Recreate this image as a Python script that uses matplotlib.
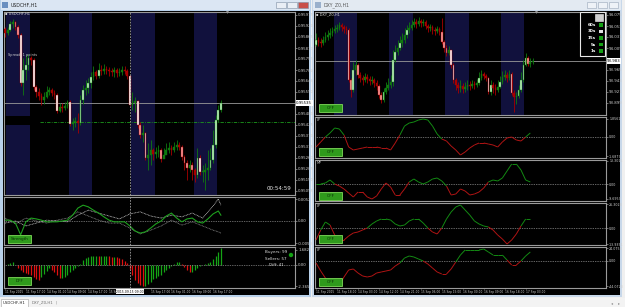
import numpy as np
import matplotlib
matplotlib.use("Agg")
import matplotlib.pyplot as plt
from matplotlib.patches import Rectangle, Circle
from matplotlib.collections import LineCollection
from matplotlib.transforms import blended_transform_factory

W, H = 625, 307

# ==========================================
# 1. Data
# ==========================================
# USDCHF H1, prices in 1e-5
chf_open0 = 95905
chf_close = [95885, 95900, 95930, 95940, 95915, 95875, 95635, 95700, 95725, 95760,
             95750, 95615, 95590, 95570, 95550, 95565, 95590, 95600, 95585, 95575,
             95495, 95515, 95510, 95520, 95540, 95430, 95440, 95445, 95435, 95550,
             95600, 95610, 95635, 95665, 95690, 95670, 95700, 95695, 95705, 95700,
             95695, 95690, 95700, 95685, 95690, 95700, 95695, 95670, 95525, 95535,
             95545, 95425, 95375, 95385, 95260, 95275, 95300, 95280, 95290, 95300,
             95255, 95275, 95300, 95310, 95300, 95315, 95325, 95315, 95265, 95235,
             95210, 95225, 95200, 95175, 95260, 95190, 95190, 95200, 95210, 95250,
             95325, 95450, 95500, 95535]
chf_high = [95915, 95915, 95945, 95955, 95945, 95925, 95885, 95760, 95775, 95780,
            95770, 95760, 95625, 95610, 95585, 95590, 95620, 95615, 95610, 95600,
            95585, 95535, 95535, 95540, 95550, 95550, 95460, 95465, 95485, 95575,
            95625, 95650, 95660, 95690, 95720, 95700, 95735, 95725, 95730, 95720,
            95715, 95710, 95715, 95710, 95710, 95720, 95720, 95705, 95675, 95590,
            95565, 95550, 95440, 95425, 95390, 95335, 95350, 95310, 95315, 95325,
            95310, 95310, 95335, 95340, 95325, 95340, 95350, 95340, 95325, 95275,
            95250, 95250, 95240, 95210, 95310, 95275, 95225, 95235, 95300, 95310,
            95400, 95475, 95525, 95550]
chf_low = [95865, 95875, 95895, 95910, 95900, 95860, 95620, 95575, 95650, 95700,
           95725, 95600, 95565, 95550, 95525, 95530, 95560, 95575, 95570, 95555,
           95485, 95490, 95490, 95500, 95510, 95420, 95400, 95415, 95385, 95425,
           95530, 95575, 95585, 95610, 95650, 95655, 95660, 95675, 95680, 95680,
           95670, 95670, 95665, 95665, 95670, 95675, 95680, 95655, 95520, 95500,
           95490, 95410, 95360, 95340, 95250, 95200, 95225, 95250, 95260, 95265,
           95240, 95260, 95280, 95285, 95275, 95290, 95300, 95300, 95250, 95200,
           95150, 95190, 95150, 95140, 95160, 95175, 95140, 95100, 95150, 95200,
           95235, 95310, 95440, 95490]
chf_price_ticks = [95975, 95920, 95865, 95810, 95755, 95700, 95645, 95590,
                   95480, 95425, 95370, 95315, 95260, 95205, 95150, 95095]
chf_level = 95440
chf_sessions = [1, 25, 49, 73]
chf_cross_bar = 48
chf_time_bars = [0, 8, 16, 24, 32, 40, 56, 64, 72, 80]
chf_time_labels = ["11 Sep 2015", "11 Sep 17:00", "14 Sep 01:00", "14 Sep 09:00",
                   "14 Sep 17:00", "15 Sep 01:00", "15 Sep 17:00", "16 Sep 01:00",
                   "16 Sep 09:00", "16 Sep 17:00"]

# Strength indicator (1e-4 units)
str_bars = np.append(np.arange(0, 83, 2), 83)
str_green = [2, 2, -5, -33, -2, 7, 5, 2, -2, -2,
             -2, 0, 2, 14, 31, 38, 34, 26, 19, 10,
             2, -2, -2, -2, -12, -24, -29, -26, -17, -7,
             0, 12, 19, 7, -2, 5, 7, -2, -5, 5,
             17, 24, 14]
str_gray_bars = np.append(np.arange(0, 81, 4), [82, 83])
str_gray_a = [-5, 0, -12, -5, 2, 0, -2, 14, 26, 19, 12, 5, 17, 22, 12, 7, 14, 10, 19, 7, 36, 53, 38]
str_gray_b = [7, -7, 7, 0, -5, 2, 7, 22, 12, 2, -5, -5, -17, -31, -22, -12, 2, -10, -2, -12, -22, -26, -29]

# DFF histogram
dff = [0.0, 0.11, 0.22, 0.33, 0.0, -0.33, -0.56, -0.78, -0.89, -1.0,
       -1.11, -1.33, -1.56, -1.67, -1.33, -1.0, -0.67, -0.33, -0.56, -0.78,
       -1.11, -1.44, -1.44, -1.33, -1.11, -0.78, -0.56, -0.33, -0.11, 0.11,
       0.56, 0.78, 0.89, 1.0, 1.0, 1.0, 0.95, 1.0, 1.0, 1.0,
       0.95, 0.89, 0.89, 0.85, 0.8, 0.67, 0.44, 0.22, -0.44, -1.11,
       -1.67, -2.0, -2.22, -2.33, -2.33, -2.11, -1.89, -1.56, -1.44, -1.22,
       -1.11, -0.78, -0.56, -0.33, -0.11, 0.11, 0.33, 0.33, 0.11, -0.22,
       -0.56, -0.78, -0.78, -0.56, -0.33, -0.11, 0.0, 0.11, 0.22, 0.33,
       0.67, 1.0, 1.44, 1.89]

# DXY H1, prices in 1e-3
dxy_open0 = 94015
dxy_close = [94025, 94021, 94019, 94025, 94031, 94035, 94039, 94043, 94047, 94049,
             94055, 94051, 94047, 94045, 93945, 93925, 93965, 93975, 93955, 93949,
             93945, 93951, 93947, 93943, 93945, 93939, 93933, 93915, 93905, 93921,
             93929, 93935, 93941, 93985, 94001, 94009, 94019, 94025, 94035, 94045,
             94049, 94055, 94061, 94057, 94063, 94059, 94061, 94053, 94049, 94051,
             94045, 94043, 94047, 94041, 94021, 94009, 93999, 94005, 93975, 93945,
             93935, 93929, 93933, 93927, 93931, 93935, 93933, 93937, 93935, 93939,
             93949, 93957, 93953, 93949, 93921, 93935, 93929, 93925, 93931, 93941,
             93951, 93955, 93949, 93957, 93919, 93911, 93913, 93925, 93945, 93975,
             93989, 93977, 93981, 93983]
dxy_high = [94039, 94031, 94029, 94033, 94041, 94045, 94049, 94051, 94055, 94057,
            94061, 94059, 94055, 94053, 94049, 93949, 93981, 93985, 93979, 93961,
            93955, 93959, 93957, 93953, 93953, 93949, 93945, 93937, 93921, 93929,
            93941, 93949, 93955, 94005, 94015, 94025, 94033, 94039, 94049, 94055,
            94061, 94065, 94069, 94067, 94071, 94067, 94067, 94065, 94057, 94057,
            94055, 94051, 94053, 94051, 94069, 94025, 94015, 94013, 94005, 93979,
            93949, 93941, 93945, 93939, 93941, 93945, 93943, 93945, 93943, 93947,
            93961, 93965, 93961, 93957, 93951, 93945, 93941, 93937, 93945, 93953,
            93963, 93965, 93961, 93965, 93961, 93925, 93921, 93935, 93961, 93985,
            93999, 93993, 93989, 93989]
dxy_low = [94013, 94013, 94011, 94015, 94021, 94025, 94029, 94033, 94039, 94041,
           94045, 94043, 94039, 94037, 93941, 93911, 93921, 93955, 93949, 93941,
           93935, 93941, 93939, 93935, 93937, 93931, 93925, 93909, 93899, 93901,
           93917, 93925, 93929, 93933, 93981, 93995, 94005, 94011, 94019, 94029,
           94039, 94045, 94051, 94049, 94053, 94051, 94053, 94047, 94041, 94043,
           94037, 94035, 94039, 94035, 94017, 94001, 93993, 93995, 93969, 93939,
           93925, 93919, 93921, 93919, 93921, 93925, 93925, 93929, 93927, 93931,
           93935, 93945, 93947, 93943, 93917, 93915, 93919, 93915, 93921, 93929,
           93937, 93945, 93941, 93945, 93915, 93881, 93897, 93909, 93921, 93941,
           93973, 93973, 93971, 93977]
dxy_price_ticks = [94075, 94053, 94031, 94009, 93965, 93943, 93921, 93899]
dxy_sessions = [8, 32, 56, 80]
dxy_time_bars = [0, 9, 18, 27, 36, 45, 54, 63, 72, 81, 90]
dxy_time_labels = ["11 Sep 2015", "11 Sep 18:00", "14 Sep 03:00", "14 Sep 12:00",
                   "14 Sep 21:00", "15 Sep 06:00", "15 Sep 15:00", "16 Sep 00:00",
                   "16 Sep 09:00", "16 Sep 18:00", "17 Sep 03:00"]

# DXY sub-indicators
ind_bars = np.arange(0, 93, 2)
ind1 = [-10, -5, 0, 4, 9, 8, 2, -10, -13, -12, -11, -10, -10, -10, -11, -11, -13, -6, 2, 11,
        14, 15, 17, 18, 17, 11, 3, -2, -4, -9, -13, -18, -15, -11, -8, -6, -6, -7, -8, -10,
        -5, -1, 0, -3, -4, 0, 4]
ind2 = [0, 0, 1, 4, 0, -2, -5, -9, -13, -8, -8, -13, -15, -12, -5, 1, -3, -11, -11, -5,
        2, 5, 2, 0, 2, 5, 6, 3, -2, -11, -10, -5, -7, -11, -10, -8, -4, 2, 4, 3,
        6, 13, 20, 20, 14, 4, 2]
ind3 = [-12, -2, 6, 3, -7, -12, -12, -8, -5, -4, -2, 0, 4, 7, 9, 9, 8, 4, 2, 3,
        7, 9, 9, 5, 0, -4, -6, 0, 9, 16, 21, 23, 18, 13, 7, 4, 2, 1, -2, -7,
        -11, -16, -12, -6, 2, 9, 9]
ind4 = [-2, -10, -17, -22, -23, -24, -16, -9, -8, -12, -15, -16, -15, -12, -11, -10, -9, -5, -2, 3,
        5, 4, 2, 0, -3, -7, -11, -13, -13, -8, -1, 6, 11, 11, 11, 11, 12, 9, 6, 6,
        6, 1, -4, -4, 0, 5, 9]
ind_ylims = [(-21, 20), (-17, 24), (-17, 25), (-27, 14)]
ind_ticks = [(18, 0, -19), (23, 0, -15), (24, 0, -16), (13, 0, -25)]
ind_tick_labels = [("1.8561", "0.00", "-1.6879"), ("13.3015", "0.00", "-9.6957"),
                   ("26.3028", "0.00", "-13.9351"), ("24.0758", "0.00", "-44.0720")]
ind_names = ["LP", "MP", "LP", "LP"]

# ==========================================
# 2. Helpers
# ==========================================
fig = plt.figure(figsize=(W / 100, H / 100), dpi=100)

bg = fig.add_axes([0, 0, 1, 1])
bg.set_xlim(0, W); bg.set_ylim(H, 0); bg.axis('off')


def rect(ax, x0, y0, x1, y1, fc, ec='none', lw=0, z=1):
    ax.add_patch(Rectangle((x0, y0), x1 - x0, y1 - y0, fc=fc, ec=ec, lw=lw, zorder=z))


def panel(x0, y0, x1, y1, lsize=2.8):
    ax = fig.add_axes([x0 / W, 1 - y1 / H, (x1 - x0) / W, (y1 - y0) / H])
    ax.set_facecolor('black')
    for s in ax.spines.values():
        s.set_color('#9a9a9a'); s.set_linewidth(0.8)
    ax.yaxis.tick_right()
    ax.tick_params(axis='y', colors='#9a9a9a', labelcolor='#d0d0d0', labelsize=lsize,
                   length=1.5, width=0.5, pad=0.8)
    ax.tick_params(axis='x', bottom=False, labelbottom=False)
    return ax


def candles(ax, open0, close, high, low, mid, big):
    c = np.array(close, float)
    o = np.concatenate([[open0], c[:-1]])
    h = np.array(high, float); l = np.array(low, float)
    x = np.arange(len(c))
    up = c >= o
    body = np.abs(c - o)
    wick = np.where(up, '#0f7a0f', '#a80000')
    ax.vlines(x, l, h, colors=wick, lw=0.6, zorder=3)
    for xi, oi, ci, bi, ui, wi in zip(x, o, c, body, up, wick):
        if ui:
            fc = '#c2f5c2' if bi >= mid else wi
        else:
            fc = '#ffffff' if bi >= big else ('#ff9e9e' if bi >= mid else wi)
        ax.add_patch(Rectangle((xi - 0.35, min(oi, ci)), 0.7, max(bi, mid * 0.15),
                               fc=fc, ec=wi, lw=0.3, zorder=4))


def sign_line(ax, xs, vs):
    xs = np.asarray(xs, float); vs = np.asarray(vs, float)
    pts = np.column_stack([xs, vs])
    segs = np.stack([pts[:-1], pts[1:]], axis=1)
    mids = (vs[:-1] + vs[1:]) / 2
    cols = np.where(mids >= 0, '#138a13', '#b01414')
    ax.add_collection(LineCollection(segs, colors=cols, lw=0.7, zorder=3))


def time_axis(ax, bars, labels):
    ax.set_xticks(bars)
    ax.set_xticklabels(labels, ha='left')
    ax.tick_params(axis='x', bottom=True, labelbottom=True, labelsize=2.1,
                   colors='#9a9a9a', labelcolor='#d0d0d0', length=1, width=0.5, pad=0.8)


def right_ticks(ax, vals, labels):
    ax.set_yticks(vals)
    ax.set_yticklabels(labels)

# ==========================================
# 3. Window chrome
# ==========================================
rect(bg, 0, 0, W, H, '#f0f0f0')
rect(bg, 0, 0, 311, 297, '#b9d1ea')
rect(bg, 1, 0, 310, 10, '#dbe6f3')
rect(bg, 3, 11, 309, 295, 'black')
rect(bg, 312, 0, 622, 297, '#c8d8ea')
rect(bg, 313, 0, 621, 10, '#e3eaf2')
rect(bg, 314, 11, 620, 295, 'black')
rect(bg, 0, 298, W, H, '#f3f3f3')

# ==========================================
# 4. Left window: USDCHF
# ==========================================
s = 1e5
axm = panel(4, 12, 295, 195)
axm.set_xlim(-0.4, 111.5)
axm.set_ylim(95075 / s, 95990 / s)
for st in chf_sessions:
    axm.axvspan(st - 0.5, st + 8.5, color='#11113d', lw=0, zorder=0)
candles(axm, chf_open0 / s, np.array(chf_close) / s, np.array(chf_high) / s,
        np.array(chf_low) / s, 25 / s, 60 / s)
axm.axhline(chf_close[-1] / s, color='#9a9a9a', lw=0.6, zorder=2)
axm.axhline(chf_level / s, xmin=0.124, color='#1c9a1c', lw=0.6, ls=(0, (4, 1.5, 1, 1.5)), zorder=2)
right_ticks(axm, np.array(chf_price_ticks) / s, [f"{p / s:.5f}" for p in chf_price_ticks])
axm.text(1.004, chf_close[-1] / s, f"{chf_close[-1] / s:.5f}", transform=blended_transform_factory(axm.transAxes, axm.transData),
         fontsize=2.8, color='black', va='center', ha='left', clip_on=False, zorder=10,
         bbox=dict(fc='white', ec='none', pad=0.4))

axs = panel(4, 197, 295, 245)
axs.set_xlim(axm.get_xlim())
axs.set_ylim(-57.6, 57.6)
axs.axhline(0, color='#c0c0c0', lw=0.5, ls=(0, (1, 1.5)))
axs.plot(str_gray_bars, str_gray_b, color='#8a8a8a', lw=0.6, ls=(0, (1, 0.8)))
axs.plot(str_gray_bars, str_gray_a, color='#c8c8c8', lw=0.6, ls=(0, (1, 0.8)))
axs.plot(str_bars, str_green, color='#1ea01e', lw=0.8)
right_ticks(axs, [52, 0, -53], ["0.0052", "0.00", "-0.0053"])

axd = panel(4, 247, 295, 288)
axd.set_xlim(axm.get_xlim())
axd.set_ylim(-2.56, 2.0)
dff_arr = np.array(dff)
rising = np.concatenate([[True], np.diff(dff_arr) >= 0])
axd.vlines(np.arange(len(dff_arr)), 0, dff_arr, colors=np.where(rising, '#15a515', '#e01010'), lw=0.9)
axd.axhline(0, color='#c0c0c0', lw=0.5, ls=(0, (1, 1.5)))
right_ticks(axd, [1.68, 0, -2.37], ["1.6827", "0.00", "-2.3658"])
time_axis(axd, chf_time_bars, chf_time_labels)
axd.text(chf_cross_bar, -0.045, "2015.09.15 09:00", transform=blended_transform_factory(axd.transData, axd.transAxes),
         fontsize=2.2, color='black', ha='center', va='top', clip_on=False, zorder=10,
         bbox=dict(fc='white', ec='none', pad=0.3))

for ax in (axm, axs, axd):
    ax.axvline(chf_cross_bar, color='#a0a0a0', lw=0.6, ls=(0, (2, 1.5)), zorder=5)

# ==========================================
# 5. Right window: DXY
# ==========================================
r = 1e3
axr = panel(315, 12, 606, 115)
axr.set_xlim(-0.45, 124.5)
axr.set_ylim(93875 / r, 94081 / r)
for st in dxy_sessions:
    axr.axvspan(st - 0.5, st + 9.5, color='#11113d', lw=0, zorder=0)
candles(axr, dxy_open0 / r, np.array(dxy_close) / r, np.array(dxy_high) / r,
        np.array(dxy_low) / r, 10 / r, 24 / r)
axr.axhline(dxy_close[-1] / r, color='#9a9a9a', lw=0.6, zorder=2)
right_ticks(axr, np.array(dxy_price_ticks) / r, [f"{p / r:.3f}" for p in dxy_price_ticks])
axr.text(1.004, dxy_close[-1] / r, f"{dxy_close[-1] / r:.3f}", transform=blended_transform_factory(axr.transAxes, axr.transData),
         fontsize=2.8, color='black', va='center', ha='left', clip_on=False, zorder=10,
         bbox=dict(fc='white', ec='none', pad=0.4))

ind_boxes = [(117, 158), (160, 201), (203, 245), (247, 288)]
ind_axes = []
for (y0, y1), vals, lim, tk, tl in zip(ind_boxes, [ind1, ind2, ind3, ind4], ind_ylims, ind_ticks, ind_tick_labels):
    ax = panel(315, y0, 606, y1, lsize=2.3)
    ax.set_xlim(axr.get_xlim())
    ax.set_ylim(*lim)
    ax.axhline(0, color='#c8c8c8', lw=0.5, ls=(0, (1, 1.5)))
    sign_line(ax, ind_bars, vals)
    right_ticks(ax, tk, tl)
    ind_axes.append(ax)
time_axis(ind_axes[-1], dxy_time_bars, dxy_time_labels)

# ==========================================
# 6. Overlay: labels, buttons, title bars
# ==========================================
ov = fig.add_axes([0, 0, 1, 1])
ov.set_xlim(0, W); ov.set_ylim(H, 0); ov.axis('off')
ov.patch.set_alpha(0)

# title bars
rect(ov, 2, 2, 8, 8, '#6a8fc0', z=3)
ov.text(11, 5, "USDCHF,H1", fontsize=3.3, color='#222222', va='center')
rect(ov, 315, 2, 321, 8, '#9ab0cc', z=3)
ov.text(324, 5, "DXY_Z0,H1", fontsize=3.3, color='#555555', va='center')
for bx, col in [(276, '#e9eef5'), (287, '#e9eef5'), (298, '#c9504a')]:
    rect(ov, bx, 2, bx + 10, 8, col, ec='#7d8ea3', lw=0.4, z=3)
for bx in (587, 598, 609):
    rect(ov, bx, 2, bx + 9, 8, '#eef2f7', ec='#98a6b8', lw=0.4, z=3)

# chart names
ov.text(5, 14, "\u25aa USDCHF,H1", fontsize=2.6, color='#d8d8d8', va='center')
ov.text(316, 14, "\u25aa DXY_Z0,H1", fontsize=2.6, color='#d8d8d8', va='center')
ov.plot([227, 536], [12, 12], 'v', color='#a0a0a0', ms=2, mew=0)

# left overlays
rect(ov, 4.5, 116, 40, 125, 'black', z=2)
ov.text(8, 55, "Spread: 1 points", fontsize=2.5, color='#d0d0d0', va='center')
ov.text(291, 189, "00:54:59", fontsize=4, color='#e8e8e8', ha='right', va='center')
ov.text(287, 252, "Buyers: 99", fontsize=3, color='#e0e0e0', ha='right', va='center')
ov.text(287, 258.5, "Sellers: 57", fontsize=3, color='#e0e0e0', ha='right', va='center')
ov.text(284, 265, "Diff: 41", fontsize=3, color='#e0e0e0', ha='right', va='center')
ov.add_patch(Circle((291, 255), 2.2, fc='#12a012', ec='none', zorder=3))


def button(x0, y0, x1, y1, label):
    rect(ov, x0, y0, x1, y1, '#2f9a1c', ec='#7fd95a', lw=0.6, z=4)
    ov.text((x0 + x1) / 2, (y0 + y1) / 2, label, fontsize=3, color='#0b2e08',
            ha='center', va='center', zorder=5)


button(8, 235, 31, 243, "Strength")
button(8, 277, 31, 285, "DFF")
for y0, y1 in [(104, 112), (148, 155.5), (192, 199.5), (235, 243), (278, 286)]:
    button(319, y0, 342, y1, "OFF")
for (y0, _), name in zip(ind_boxes, ind_names):
    ov.text(317, y0 + 3, name, fontsize=2.4, color='#c8c8c8', va='center')

# timeframe selector
rect(ov, 580, 11.5, 605, 56, 'black', ec='#e8e8e8', lw=0.8, z=4)
rect(ov, 595, 14, 603, 21, '#d0d0d0', ec='#f0f0f0', lw=0.4, z=5)
for yy, lab, col in zip([25, 31.5, 38, 44.5, 51], ["60s", "30s", "15s", "5s", "1s"],
                        ['#14a014', '#e0e0e0', '#14a014', '#14a014', '#14a014']):
    ov.text(596, yy, lab, fontsize=3, color='white', ha='right', va='center',
            fontweight='bold', zorder=6)
    rect(ov, 599, yy - 1.8, 603, yy + 1.8, col, z=6)

# tabs at bottom
rect(ov, 1, 299, 28, 306.5, 'white', ec='#a0a0a0', lw=0.4, z=3)
ov.text(14.5, 302.8, "USDCHF,H1", fontsize=2.8, color='#222222', ha='center', va='center')
ov.text(42, 302.8, "DXY_Z0,H1", fontsize=2.8, color='#707070', ha='center', va='center')
ov.text(56, 302.8, "|", fontsize=3, color='#909090', ha='center', va='center')
ov.text(612, 303, "\u25c2", fontsize=3, color='#909090', ha='center', va='center')
ov.text(619, 303, "\u25b8", fontsize=3, color='#909090', ha='center', va='center')

fig.savefig("out.png", dpi=100, facecolor='#f0f0f0')
